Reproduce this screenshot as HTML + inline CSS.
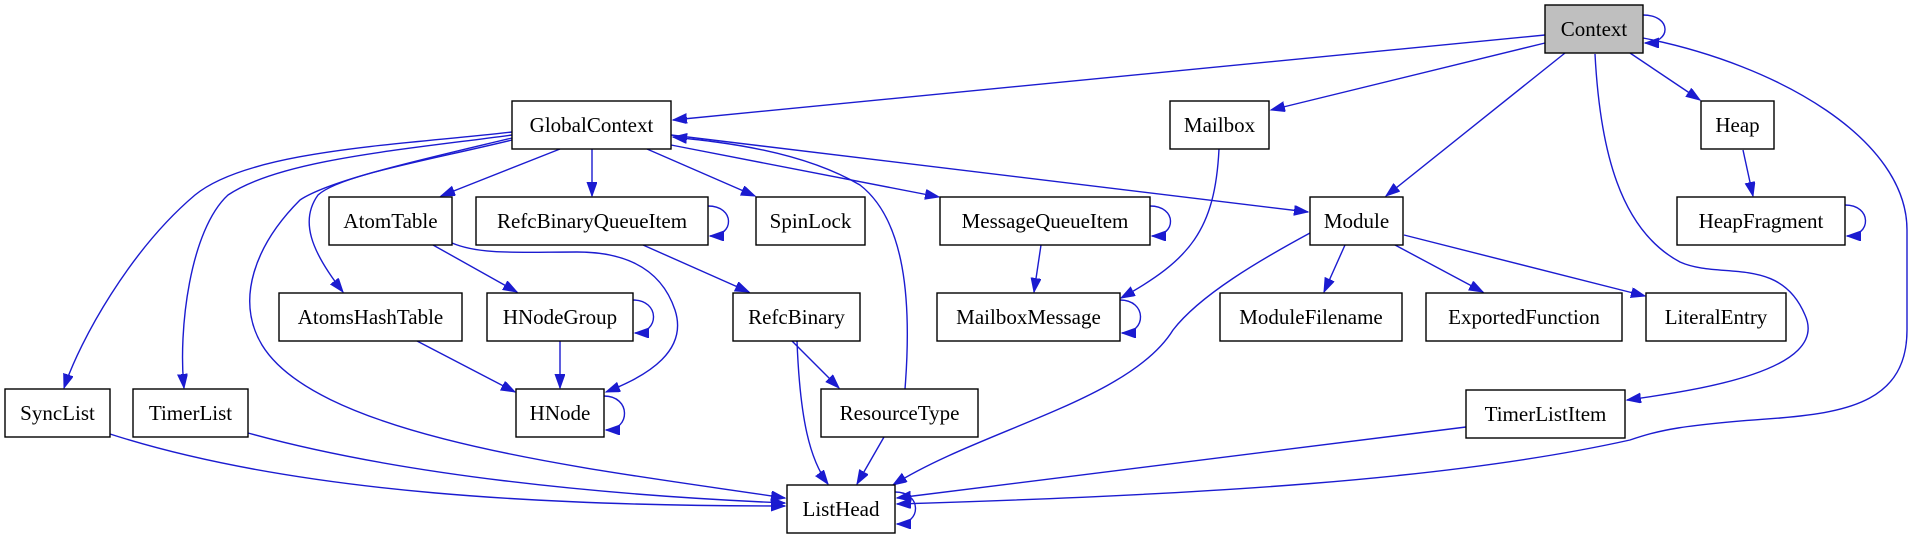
<!DOCTYPE html>
<html><head><meta charset="utf-8"><style>
html,body{margin:0;padding:0;background:#fff;}
svg{display:block;}
text{font-family:"Liberation Serif",serif;font-size:21px;fill:#000;}
</style></head><body>
<svg width="1909" height="539" viewBox="0 0 1909 539" xmlns="http://www.w3.org/2000/svg">
<defs>
<marker id="a" markerUnits="userSpaceOnUse" markerWidth="16" markerHeight="12" refX="14" refY="5" orient="auto">
<path d="M0,0 L14,5 L0,10 z" fill="#1b1bd0" stroke="#1b1bd0"/>
</marker>
</defs>
<g fill="none" stroke="#1b1bd0" stroke-width="1.4" marker-end="url(#a)">
<path d="M1643,15 C1672,15 1672,43 1645,43"/>
<path d="M1545,35 L673,120"/>
<path d="M1545,43 L1271,110"/>
<path d="M1565,53 L1386,196"/>
<path d="M1630,53 L1700,100"/>
<path d="M1595,54 C1600,150 1620,230 1680,262 C1720,280 1780,255 1805,315 C1830,370 1700,390 1627,400"/>
<path d="M1643,38 C1780,65 1907,140 1907,230 L1907,330 C1907,400 1850,412 1780,418 C1680,425 1660,430 1630,440 C1450,480 1200,495 897,504"/>
<path d="M560,149 L441,196"/>
<path d="M592,149 L592,196"/>
<path d="M647,149 L755,196"/>
<path d="M671,145 L939,197"/>
<path d="M671,135 L1308,212"/>
<path d="M905,389 C912,300 905,220 860,185 C800,150 720,142 673,137"/>
<path d="M512,132 C400,145 250,150 195,195 C130,250 80,340 64,388"/>
<path d="M512,135 C400,150 280,160 228,195 C190,230 178,330 184,388"/>
<path d="M512,140 C430,160 340,175 318,195 C300,220 310,250 343,292"/>
<path d="M512,138 C420,160 330,180 300,200 C255,245 235,300 262,345 C320,440 600,470 785,498"/>
<path d="M433,245 L517,292"/>
<path d="M452,243 C480,255 520,252 577,252 C640,252 665,280 675,310 C688,350 650,375 606,392"/>
<path d="M708,206 C735,206 735,236 710,236"/>
<path d="M643,245 L749,292"/>
<path d="M417,341 L515,392"/>
<path d="M633,300 C660,300 660,333 635,333"/>
<path d="M560,341 L560,388"/>
<path d="M604,396 C631,396 631,430 606,430"/>
<path d="M110,434 C300,495 560,506 785,506"/>
<path d="M248,433 C400,475 600,495 785,503"/>
<path d="M792,341 L839,388"/>
<path d="M797,341 C800,420 810,460 828,484"/>
<path d="M884,437 L857,484"/>
<path d="M1150,206 C1177,206 1177,236 1152,236"/>
<path d="M1041,245 L1034,292"/>
<path d="M1219,149 C1215,230 1190,260 1121,298"/>
<path d="M1120,300 C1147,300 1147,333 1122,333"/>
<path d="M1310,233 C1260,260 1200,295 1173,330 C1130,400 980,430 893,485"/>
<path d="M1345,245 L1324,292"/>
<path d="M1395,245 L1483,292"/>
<path d="M1404,235 L1645,296"/>
<path d="M1743,150 L1753,196"/>
<path d="M1845,205 C1872,205 1872,236 1847,236"/>
<path d="M1466,427 L897,498"/>
<path d="M895,492 C922,492 922,524 897,524"/>
</g>
<g stroke="#000" stroke-width="1.4" fill="#fff">
<rect x="1545" y="5" width="98" height="48" fill="#bfbfbf"/>
<rect x="512" y="101" width="159" height="48"/>
<rect x="1170" y="101" width="99" height="48"/>
<rect x="1701" y="101" width="73" height="48"/>
<rect x="329" y="197" width="123" height="48"/>
<rect x="476" y="197" width="232" height="48"/>
<rect x="756" y="197" width="109" height="48"/>
<rect x="940" y="197" width="210" height="48"/>
<rect x="1310" y="197" width="93" height="48"/>
<rect x="1677" y="197" width="168" height="48"/>
<rect x="279" y="293" width="183" height="48"/>
<rect x="487" y="293" width="146" height="48"/>
<rect x="733" y="293" width="127" height="48"/>
<rect x="937" y="293" width="183" height="48"/>
<rect x="1220" y="293" width="182" height="48"/>
<rect x="1426" y="293" width="196" height="48"/>
<rect x="1646" y="293" width="140" height="48"/>
<rect x="5" y="389" width="105" height="48"/>
<rect x="133" y="389" width="115" height="48"/>
<rect x="516" y="389" width="88" height="48"/>
<rect x="821" y="389" width="157" height="48"/>
<rect x="1466" y="390" width="159" height="48"/>
<rect x="787" y="485" width="108" height="48"/>
</g>
<g text-anchor="middle">
<text x="1594" y="36">Context</text>
<text x="591.5" y="132">GlobalContext</text>
<text x="1219.5" y="132">Mailbox</text>
<text x="1737.5" y="132">Heap</text>
<text x="390.5" y="228">AtomTable</text>
<text x="592" y="228">RefcBinaryQueueItem</text>
<text x="810.5" y="228">SpinLock</text>
<text x="1045" y="228">MessageQueueItem</text>
<text x="1356.5" y="228">Module</text>
<text x="1761" y="228">HeapFragment</text>
<text x="370.5" y="324">AtomsHashTable</text>
<text x="560" y="324">HNodeGroup</text>
<text x="796.5" y="324">RefcBinary</text>
<text x="1028.5" y="324">MailboxMessage</text>
<text x="1311" y="324">ModuleFilename</text>
<text x="1524" y="324">ExportedFunction</text>
<text x="1716" y="324">LiteralEntry</text>
<text x="57.5" y="420">SyncList</text>
<text x="190.5" y="420">TimerList</text>
<text x="560" y="420">HNode</text>
<text x="899.5" y="420">ResourceType</text>
<text x="1545.5" y="421">TimerListItem</text>
<text x="841" y="516">ListHead</text>
</g>
</svg>
</body></html>
